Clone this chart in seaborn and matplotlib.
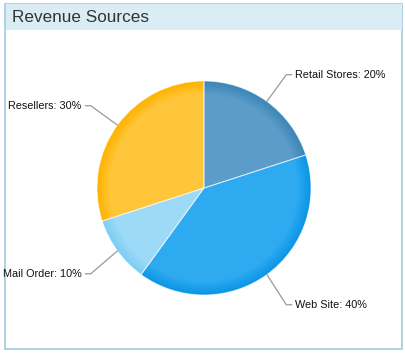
import numpy as np
import matplotlib
matplotlib.use("Agg")
import matplotlib.pyplot as plt
import seaborn as sns
from matplotlib.patches import Rectangle
from matplotlib.colors import to_rgb

sources = ["Retail Stores", "Web Site", "Mail Order", "Resellers"]
shares = [20, 40, 10, 30]
edge_colors = ["#3b86b8", "#0b95e6", "#7ccdf3", "#ffb300"]
inner_colors = ["#5c9cc8", "#2eaaf0", "#9cdaf7", "#ffc63c"]

sns.set_theme(style="white")
plt.rcParams["font.family"] = ["Liberation Sans", "DejaVu Sans"]

W, H = 406, 353
fig = plt.figure(figsize=(W / 100, H / 100), dpi=100)
ax = fig.add_axes([0, 0, 1, 1])

# panel frame + title bar
ax.add_patch(Rectangle((5.5, H - 348.5), 397, 345, facecolor="white", edgecolor="#9fc9dd", lw=1.2, zorder=0))
ax.add_patch(Rectangle((6, H - 30), 396, 26.5, facecolor="#daedf5", edgecolor="none", zorder=1))
ax.text(12, H - 17, "Revenue Sources", fontsize=12.3, color="#333333", va="center", ha="left", zorder=2)

cx, cy, r = 204, H - 188, 107

# layered pie to fake the radial shading
n = 10
for i in range(n):
    t = i / (n - 1)
    cols = [tuple(np.array(to_rgb(e)) * (1 - t) + np.array(to_rgb(c)) * t) for e, c in zip(edge_colors, inner_colors)]
    rad = r * (1 - 0.12 * t)
    ax.pie(shares, colors=cols, startangle=90, counterclock=False, center=(cx, cy), radius=rad,
           wedgeprops=dict(linewidth=0), frame=True)

wedges, _ = ax.pie(shares, colors=["none"] * 4, startangle=90, counterclock=False, center=(cx, cy), radius=r,
                   wedgeprops=dict(edgecolor=(1, 1, 1, 0.6), linewidth=0.7, facecolor="none"), frame=True)
ax.set_xlim(0, W)
ax.set_ylim(0, H)
ax.set_aspect("equal")
ax.axis("off")

for w, name, val in zip(wedges, sources, shares):
    ang = np.deg2rad((w.theta1 + w.theta2) / 2)
    x0, y0 = cx + r * np.cos(ang), cy + r * np.sin(ang)
    x1, y1 = cx + 140 * np.cos(ang), cy + 140 * np.sin(ang)
    if np.sin(ang) < 0:
        y1 -= 3.5
    side = 1 if np.cos(ang) > 0 else -1
    x2 = x1 + 5.5 * side
    ax.plot([x0, x1, x2], [y0, y1, y1], color="#999999", lw=0.9, zorder=5)
    ax.text(x2 + 3.5 * side, y1, f"{name}: {val}%", fontsize=7.8, color="#111111",
            ha="left" if side > 0 else "right", va="center", zorder=5)

fig.savefig("out.png", dpi=100)
